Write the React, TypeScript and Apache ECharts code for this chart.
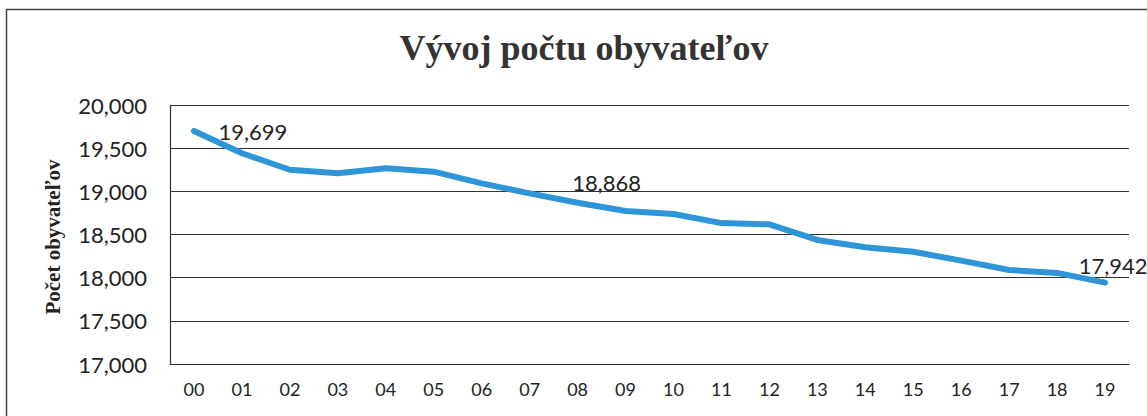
import React, { useEffect, useRef } from "react";
import * as echarts from "echarts";

const years = ["00","01","02","03","04","05","06","07","08","09","10","11","12","13","14","15","16","17","18","19"];
const population = [19699,19441,19250,19210,19267,19228,19092,18977,18868,18773,18738,18632,18618,18437,18352,18301,18197,18089,18055,17942];
const labelledIdx = [0, 8, 19];
const labelOffsets: number[][] = [[59, 1], [29, -20], [8, -17]];
const yTicks = { min: 17000, max: 20000, interval: 500 };
const titleText = "Vývoj počtu obyvateľov";
const yAxisTitle = "Počet obyvateľov";

export default function App() {
  const ref = useRef<HTMLDivElement>(null);
  useEffect(() => {
    if (!ref.current) return;
    const chart = echarts.init(ref.current, null, { renderer: "svg" });
    const seriesData = population.map((v, i) => {
      const k = labelledIdx.indexOf(i);
      if (k < 0) return v;
      return {
        value: v,
        label: {
          show: true,
          position: "inside",
          offset: labelOffsets[k],
          formatter: (p: any) => Number(p.value).toLocaleString("en-US"),
          fontFamily: "Lato",
          fontSize: 22,
          color: "#222",
        },
      };
    });
    chart.setOption({
      animation: false,
      backgroundColor: "#ffffff",
      grid: { left: 170, top: 105, right: 18, bottom: 52, containLabel: false },
      graphic: [
        {
          type: "rect",
          z: -10,
          shape: { x: 6.5, y: 9.5, width: 1200, height: 450 },
          style: { fill: "none", stroke: "#444", lineWidth: 1.5 },
        },
        {
          type: "text",
          x: 584,
          y: 48,
          style: {
            text: titleText,
            font: "bold 36px 'Liberation Serif'",
            fill: "#333",
            textAlign: "center",
            textVerticalAlign: "middle",
          },
        },
        {
          type: "text",
          x: 53,
          y: 237,
          rotation: Math.PI / 2,
          style: {
            text: yAxisTitle,
            font: "bold 21px 'Liberation Serif'",
            fill: "#222",
            textAlign: "center",
            textVerticalAlign: "middle",
          },
        },
      ],
      xAxis: {
        type: "category",
        data: years,
        boundaryGap: true,
        axisLine: { show: true, lineStyle: { color: "#333", width: 1.2 } },
        axisTick: { show: false },
        axisLabel: { fontFamily: "Lato", fontSize: 18, color: "#222", margin: 16 },
      },
      yAxis: {
        type: "value",
        min: yTicks.min,
        max: yTicks.max,
        interval: yTicks.interval,
        axisLine: { show: true, lineStyle: { color: "#333", width: 1.2 } },
        axisTick: { show: false },
        splitLine: { show: true, lineStyle: { color: "#333", width: 1.2 } },
        axisLabel: {
          fontFamily: "Lato",
          fontSize: 22,
          color: "#222",
          margin: 23,
          formatter: (v: number) => v.toLocaleString("en-US"),
        },
      },
      series: [
        {
          type: "line",
          data: seriesData,
          symbol: "circle",
          symbolSize: 0.1,
          showSymbol: true,
          itemStyle: { color: "#2e96d8" },
          lineStyle: { color: "#2e96d8", width: 6, cap: "round", join: "round" },
          label: { show: false },
        },
      ],
    });
    return () => chart.dispose();
  }, []);
  return (
    <div
      ref={ref}
      style={{ position: "absolute", left: 0, top: 0, width: 1147, height: 416, background: "#fff" }}
    />
  );
}
